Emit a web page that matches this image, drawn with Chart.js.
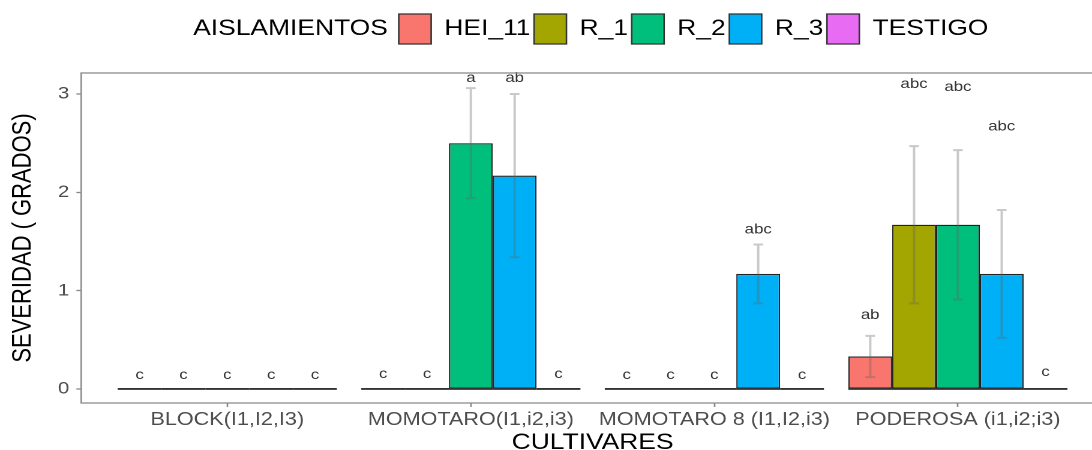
<!DOCTYPE html>
<html>
<head>
<meta charset="utf-8">
<title>Severidad por cultivar</title>
<script src="https://cdn.jsdelivr.net/npm/chart.js@4.4.1/dist/chart.umd.min.js"></script>
<style>
  html, body { margin: 0; padding: 0; overflow: hidden; background: #fff; }
  /* la figura original viene estirada en horizontal */
  #wrap { width: 930px; height: 460px; transform: scaleX(1.2); transform-origin: 0 0; }
</style>
</head>
<body>
<div id="wrap"><canvas id="severidadChart"></canvas></div>
<script>
const cultivares = ['BLOCK(I1,I2,I3)', 'MOMOTARO(I1,i2,i3)', 'MOMOTARO 8 (I1,I2,i3)', 'PODEROSA (i1,i2;i3)'];
const aislamientos = ['HEI_11', 'R_1', 'R_2', 'R_3', 'TESTIGO'];
const colores = ['#F8766D', '#A3A500', '#00BF7D', '#00B0F6', '#E76BF3'];

// severidad media
const hei11 = [0, 0, 0, 0.33];
const r1 = [0, 0, 0, 1.67];
const r2 = [0, 2.5, 0, 1.67];
const r3 = [0, 2.17, 1.17, 1.17];
const testigo = [0, 0, 0, 0];

// error (+/-)
const errHei11 = [0, 0, 0, 0.21];
const errR1 = [0, 0, 0, 0.80];
const errR2 = [0, 0.56, 0, 0.76];
const errR3 = [0, 0.83, 0.30, 0.65];
const errTestigo = [0, 0, 0, 0];

// letras de significancia
const letrasHei11 = ['c', 'c', 'c', 'ab'];
const letrasR1 = ['c', 'c', 'c', 'abc'];
const letrasR2 = ['c', 'a', 'c', 'abc'];
const letrasR3 = ['c', 'ab', 'abc', 'abc'];
const letrasTestigo = ['c', 'c', 'c', 'c'];

// altura (grados) de cada letra
const altHei11 = [0.14, 0.15, 0.14, 0.75];
const altR1 = [0.14, 0.15, 0.14, 3.10];
const altR2 = [0.14, 3.16, 0.14, 3.07];
const altR3 = [0.14, 3.16, 1.62, 2.67];
const altTestigo = [0.14, 0.15, 0.14, 0.17];

const yTicks = [0, 1, 2, 3];

const medias = [hei11, r1, r2, r3, testigo];
const errores = [errHei11, errR1, errR2, errR3, errTestigo];
const letras = [letrasHei11, letrasR1, letrasR2, letrasR3, letrasTestigo];
const alturas = [altHei11, altR1, altR2, altR3, altTestigo];

const fuente = "'Liberation Sans', Arial, sans-serif";
Chart.defaults.font.family = fuente;

// separa la leyenda del panel
const legendMargin = {
    id: 'legendMargin',
    beforeInit(chart) {
        const fitOriginal = chart.legend.fit;
        chart.legend.fit = function () {
            fitOriginal.call(this);
            this.height += 19;
        };
    }
};

// linea base, barras de error y letras
const extras = {
    id: 'extras',
    afterDatasetsDraw(chart) {
        const { ctx, scales: { y } } = chart;
        const y0 = y.getPixelForValue(0);
        ctx.save();
        chart.data.datasets.forEach((ds, di) => {
            const meta = chart.getDatasetMeta(di);
            meta.data.forEach((bar, i) => {
                const half = bar.width / 2;
                ctx.strokeStyle = '#333';
                ctx.lineWidth = 1.8;
                ctx.beginPath();
                ctx.moveTo(bar.x - half, y0);
                ctx.lineTo(bar.x + half, y0);
                ctx.stroke();

                const err = errores[di][i];
                if (err > 0) {
                    const v = medias[di][i];
                    const yTop = y.getPixelForValue(v + err);
                    const yBot = y.getPixelForValue(v - err);
                    ctx.strokeStyle = 'rgba(100, 100, 100, 0.35)';
                    ctx.lineWidth = 2;
                    ctx.beginPath();
                    ctx.moveTo(bar.x, yTop);
                    ctx.lineTo(bar.x, yBot);
                    ctx.moveTo(bar.x - 4, yTop);
                    ctx.lineTo(bar.x + 4, yTop);
                    ctx.moveTo(bar.x - 4, yBot);
                    ctx.lineTo(bar.x + 4, yBot);
                    ctx.stroke();
                }

                ctx.fillStyle = '#333';
                ctx.font = '14px ' + fuente;
                ctx.textAlign = 'center';
                ctx.textBaseline = 'middle';
                ctx.fillText(letras[di][i], bar.x, y.getPixelForValue(alturas[di][i]));
            });
        });
        ctx.restore();
    },
    afterDraw(chart) {
        const { ctx, chartArea: a } = chart;
        ctx.save();
        ctx.strokeStyle = '#8c8c8c';
        ctx.lineWidth = 1.3;
        ctx.strokeRect(a.left, a.top, a.right - a.left, a.bottom - a.top);
        ctx.restore();
    }
};

const ctx = document.getElementById('severidadChart').getContext('2d');
new Chart(ctx, {
    type: 'bar',
    data: {
        datasets: aislamientos.map((nombre, k) => ({
            label: nombre,
            data: medias[k].map((v, i) => ({ x: i + 1, y: v })),
            backgroundColor: colores[k],
            borderColor: '#222',
            borderWidth: 1.2,
            borderSkipped: false,
            categoryPercentage: 0.9,
            barPercentage: 1
        }))
    },
    options: {
        responsive: true,
        maintainAspectRatio: false,
        animation: false,
        devicePixelRatio: 2,
        layout: { padding: { top: 11, left: 0, right: 10, bottom: 0 } },
        plugins: {
            tooltip: { enabled: false },
            legend: {
                position: 'top',
                fullSize: false,
                onClick: () => {},
                labels: {
                    boxWidth: 27,
                    boxHeight: 30,
                    padding: 3,
                    color: '#000',
                    font: { size: 22 },
                    generateLabels(chart) {
                        const items = Chart.defaults.plugins.legend.labels.generateLabels(chart);
                        items.forEach(it => { it.strokeStyle = '#333'; it.lineWidth = 1.3; it.fontColor = '#000'; });
                        const vacio = { fillStyle: 'rgba(0,0,0,0)', strokeStyle: 'rgba(0,0,0,0)', lineWidth: 0, fontColor: '#000', hidden: false };
                        return [{ ...vacio, text: 'AISLAMIENTOS ' }, ...items, { ...vacio, text: '' }];
                    }
                }
            }
        },
        scales: {
            x: {
                type: 'linear',
                offset: false,
                min: 0.4,
                max: 4.6,
                afterBuildTicks: (scale) => {
                    scale.ticks = cultivares.map((c, i) => ({ value: i + 1 }));
                },
                grid: { offset: false, drawOnChartArea: false, tickLength: 4, tickColor: '#888', tickWidth: 1.3 },
                border: { display: false },
                ticks: {
                    autoSkip: false,
                    maxRotation: 0,
                    padding: 4,
                    color: '#4d4d4d',
                    font: { size: 18, lineHeight: 1 },
                    callback: (v) => cultivares[Math.round(v) - 1]
                },
                title: {
                    display: true,
                    text: 'CULTIVARES',
                    color: '#000',
                    font: { size: 22, lineHeight: 1 },
                    padding: { top: -1, bottom: 6 }
                }
            },
            y: {
                min: -0.143,
                max: 3.214,
                afterBuildTicks: (scale) => {
                    scale.ticks = yTicks.map(v => ({ value: v }));
                },
                grid: { drawOnChartArea: false, tickLength: 4, tickColor: '#888', tickWidth: 1.3 },
                border: { display: false },
                ticks: {
                    padding: 6,
                    color: '#4d4d4d',
                    font: { size: 17 }
                },
                title: {
                    display: true,
                    text: 'SEVERIDAD ( GRADOS)',
                    color: '#000',
                    font: { size: 22, lineHeight: 1 },
                    padding: { top: 8.5, bottom: 11.7 }
                }
            }
        }
    },
    plugins: [legendMargin, extras]
});
</script>
</body>
</html>
